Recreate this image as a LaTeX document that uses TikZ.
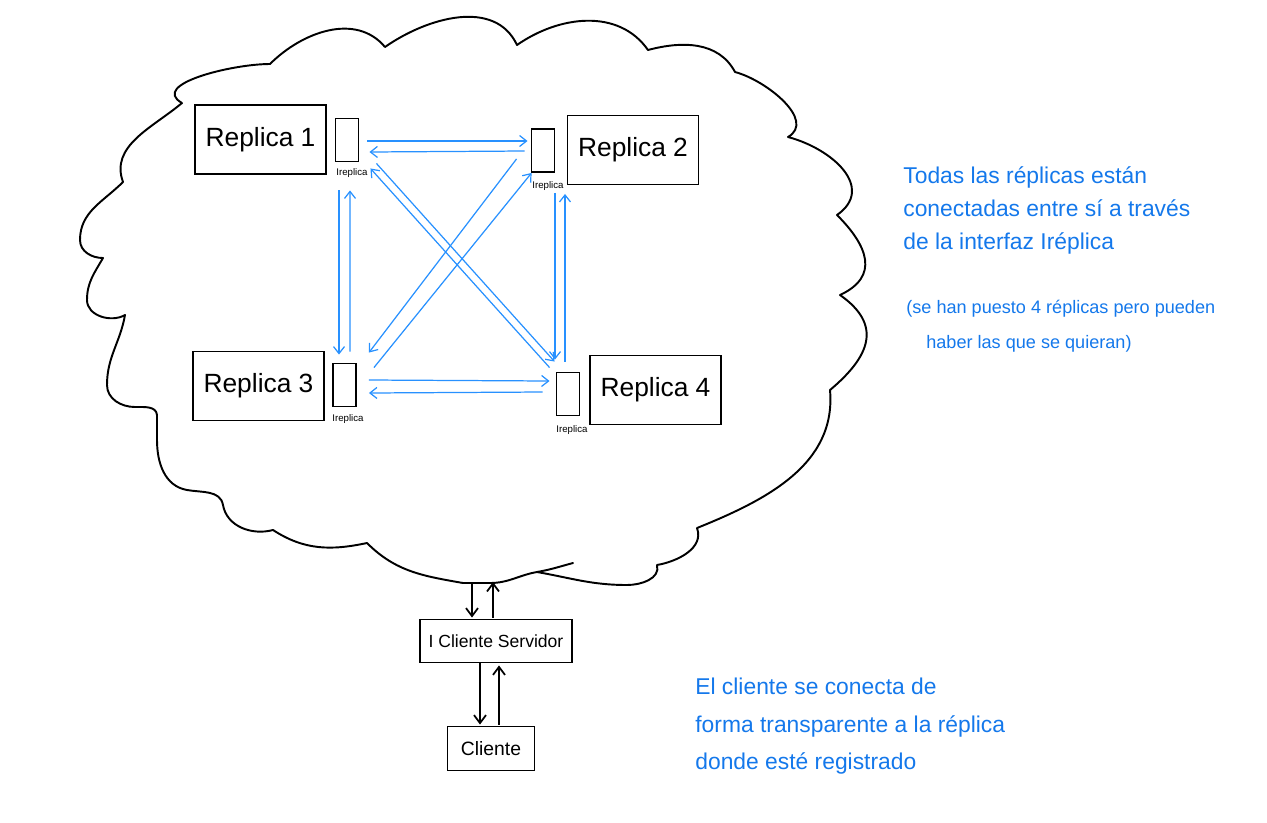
\documentclass[tikz,border=0pt]{standalone}
\usepackage{fontspec}
\setmainfont{Liberation Sans}
\usetikzlibrary{arrows.meta}
\definecolor{penblue}{RGB}{40,145,255}
\definecolor{inkblue}{RGB}{20,120,235}

\begin{document}
\begin{tikzpicture}[x=0.02cm,y=0.02cm,
  box/.style={draw,line width=1.1pt,minimum width=2.62cm,minimum height=1.38cm,
              inner sep=0pt,font=\fontsize{15}{18}\selectfont},
  ibox/.style={draw,line width=1.1pt,minimum width=0.46cm,minimum height=0.86cm,inner sep=0pt},
  cbox/.style={draw,line width=1.1pt,inner sep=0pt,font=\fontsize{10}{12}\selectfont},
  ilabel/.style={font=\fontsize{5.5}{6}\selectfont,inner sep=0pt},
  arr/.style={-{Straight Barb[length=1.4mm,width=2.2mm]},penblue,line width=0.7pt},
  barr/.style={-{Straight Barb[length=1.6mm,width=2.4mm]},line width=1pt},
  cloud/.style={line width=1.1pt,line join=round,line cap=round},
  note/.style={inkblue,font=\fontsize{13}{19}\selectfont,align=left,anchor=north west,inner sep=0pt}
]
\useasboundingbox (0,0) rectangle (1267,-822);

% Cloud
\draw[cloud] (182,-103) to[out=150,in=180] (270,-64)
  to[out=45,in=130] (385,-47)
  to[out=35,in=115] (517,-45)
  to[out=35,in=125] (648,-50)
  to[out=15,in=118] (735,-72)
  to[out=-15,in=30] (788,-137)
  to[out=-15,in=35,looseness=1.3] (837,-215)
  to[out=-45,in=25,looseness=1.4] (840,-295)
  to[out=-35,in=40,looseness=1.4] (830,-390)
  to[out=-85,in=22] (697,-528)
  to[out=-70,in=10] (657,-565)
  to[out=-75,in=0] (627,-585)
  to[out=180,in=-10] (537,-572)
  to[out=190,in=0] (490,-583)
  -- (463,-583)
  to[out=170,in=-45] (367,-543)
  to[out=192,in=-33] (273,-530)
  to[out=195,in=-80] (223,-505)
  to[out=100,in=-10] (187,-490)
  to[out=170,in=-90] (157,-440)
  -- (157,-415)
  to[out=95,in=0] (135,-407)
  to[out=180,in=-90] (107,-385)
  to[out=90,in=-100] (125,-315)
  to[out=-150,in=-90] (87,-300)
  to[out=90,in=-120] (103,-258)
  to[out=180,in=-90] (80,-240)
  to[out=90,in=-135] (123,-182)
  to[out=110,in=-140] (182,-103);
\draw[cloud] (573,-563) to[out=195,in=10] (537,-572);

% Replicas
\node[box] (r1) at (260.5,-139.5) {Replica 1};
\node[box] (r2) at (633,-150)   {Replica 2};
\node[box] (r3) at (258.5,-386) {Replica 3};
\node[box] (r4) at (655.5,-390) {Replica 4};

% Interfaces
\node[ibox] (i1) at (347,-140)   {};
\node[ibox] (i2) at (543,-150.5) {};
\node[ibox] (i3) at (344.5,-385) {};
\node[ibox] (i4) at (568,-394)   {};
\node[ilabel] (l1) at (352,-173) {Ireplica};
\node[ilabel] (l2) at (548,-186) {Ireplica};
\node[ilabel] (l3) at (348,-419) {Ireplica};
\node[ilabel] (l4) at (572,-430) {Ireplica};

% Client side
\node[cbox,minimum width=3.04cm,minimum height=0.86cm] (ics) at (496,-641) {I Cliente Servidor};
\node[cbox,minimum width=1.74cm,minimum height=0.88cm,font=\fontsize{11}{13}\selectfont] (cli) at (491,-748.5) {Cliente};
\coordinate (cout) at (472,-583);
\coordinate (cin)  at (493,-582);

% Arrows between interfaces
\draw[arr] ([shift={(8,-1)}]i1.east) -- ([shift={(-3,9.5)}]i2.west);
\draw[arr] ([shift={(-6,-0.5)}]i2.west) -- ([shift={(10,-12)}]i1.east);
\draw[arr] ([shift={(-8,-28)}]i1.south) -- ([shift={(-5.5,8)}]i3.north);
\draw[arr] ([shift={(5.5,11)}]i3.north) -- ([shift={(3,-28)}]i1.south);
\draw[arr] ([shift={(-6,4)}]i4.north west) -- ([shift={(11,-6)}]i1.south east);
\draw[arr] ([shift={(17,-1)}]i1.south east) -- ([shift={(-1,10)}]i4.north west);
\draw[arr] ([shift={(-14,14)}]i2.south west) -- ([shift={(12,10)}]i3.north east);
\draw[arr] ([shift={(17,-5)}]i3.north east) -- ([shift={(1,0)}]i2.south west);
\draw[arr] ([shift={(12,-20)}]i2.south) -- ([shift={(-13,12)}]i4.north);
\draw[arr] ([shift={(-3,10)}]i4.north) -- ([shift={(22,-21)}]i2.south);
\draw[arr] ([shift={(12,5)}]i3.east) -- ([shift={(-6,13)}]i4.west);
\draw[arr] ([shift={(-13,2)}]i4.west) -- ([shift={(12,-8)}]i3.east);

% Client arrows
\draw[barr] (cout) -- ([shift={(-24,1)}]ics.north);
\draw[barr] ([shift={(-3,1)}]ics.north) -- (cin);
\draw[barr] ([shift={(-16,0)}]ics.south) -- ([shift={(-11,1)}]cli.north);
\draw[barr] ([shift={(8,1)}]cli.north) -- ([shift={(3,-2)}]ics.south);

% Notes
\node[note] (n1) at (903,-166) {Todas las réplicas están\\conectadas entre sí a través\\de la interfaz Iréplica};
\node[note,font=\fontsize{10.3}{20}\selectfont] (n2) at (906,-300) {(se han puesto 4 réplicas pero pueden\\\hspace*{0.4cm}haber las que se quieran)};
\node[note,font=\fontsize{13}{21.3}\selectfont] (n3) at (695,-678) {El cliente se conecta de\\forma transparente a la réplica\\donde esté registrado};

\end{tikzpicture}
\end{document}
